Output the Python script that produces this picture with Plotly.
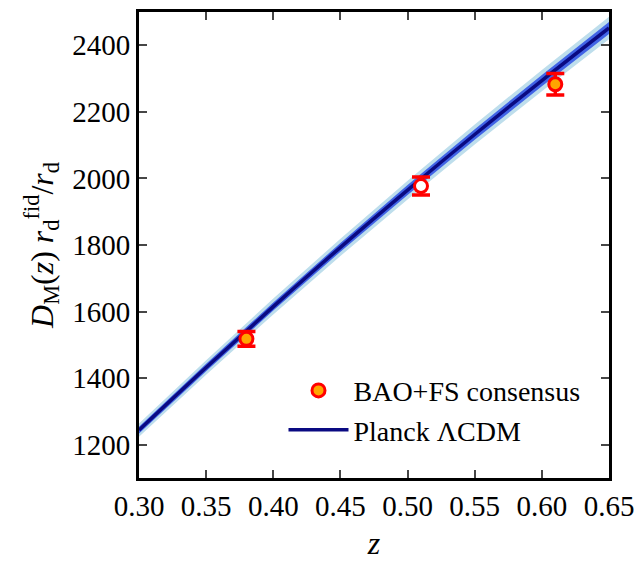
import plotly.graph_objects as go

# BAO+FS consensus measurements
z_data = [0.38, 0.51, 0.61]
dm_data = [1518, 1977, 2283]
dm_err = [22, 27, 32]
marker_fill = ["orange", "white", "orange"]

# Planck LCDM prediction with 1-sigma / 2-sigma bands
z_model = [0.30, 0.35, 0.40, 0.45, 0.50, 0.55, 0.60, 0.65]
dm_model = [1244, 1432, 1615, 1793, 1965, 2132, 2294, 2452]
sig1 = [10, 11, 12, 13, 15, 16, 17, 18]
sig2 = [20, 22, 24, 26, 28, 30, 32, 34]

x_ticks = [0.30, 0.35, 0.40, 0.45, 0.50, 0.55, 0.60, 0.65]
y_ticks = [1200, 1400, 1600, 1800, 2000, 2200, 2400]

FONT = "Liberation Serif"

fig = go.Figure()


def band(width, color):
    up = [d + w for d, w in zip(dm_model, width)]
    lo = [d - w for d, w in zip(dm_model, width)]
    return go.Scatter(
        x=z_model + z_model[::-1], y=up + lo[::-1],
        fill="toself", fillcolor=color, line=dict(width=0),
        mode="lines", hoverinfo="skip", showlegend=False,
    )


fig.add_trace(band(sig2, "rgb(190,222,236)"))
fig.add_trace(band(sig1, "rgb(65,100,230)"))
fig.add_trace(go.Scatter(
    x=z_model, y=dm_model, mode="lines", line_shape="spline",
    line=dict(color="rgb(10,10,130)", width=3.5),
    name="Planck \u039bCDM",
))
fig.add_trace(go.Scatter(
    x=z_data, y=dm_data, mode="markers",
    marker=dict(size=13, color=marker_fill, line=dict(color="red", width=3)),
    error_y=dict(type="data", array=dm_err, color="red", thickness=3.5, width=9),
    name="BAO+FS consensus",
))

axis_common = dict(
    showline=True, linecolor="black", linewidth=3, mirror="ticks",
    ticks="inside", ticklen=8, tickwidth=1.5, tickcolor="rgb(70,70,70)",
    showgrid=False, zeroline=False, automargin=False,
    tickfont=dict(family=FONT, size=29, color="black"),
)

fig.update_xaxes(
    range=[0.30, 0.65], tickvals=x_ticks,
    ticktext=[f"{v:.2f}" for v in x_ticks],
    title=dict(text="<i>z</i>", font=dict(family=FONT, size=32, color="black"), standoff=16),
    **axis_common,
)
fig.update_yaxes(
    range=[1100, 2500], tickvals=y_ticks,
    title=dict(
        text="<i>D</i><sub>M</sub>(<i>z</i>) <i>r</i><sub>d</sub><sup>fid</sup>/<i>r</i><sub>d</sub>",
        font=dict(family=FONT, size=32, color="black"), standoff=10,
    ),
    **axis_common,
)

fig.update_layout(
    width=637, height=561,
    margin=dict(l=139, r=28, t=12, b=83),
    plot_bgcolor="white", paper_bgcolor="white",
    legend=dict(
        x=0.95, y=0.05, xanchor="right", yanchor="bottom",
        bgcolor="rgba(0,0,0,0)", traceorder="reversed",
        font=dict(family=FONT, size=28, color="black"),
        itemwidth=60, tracegroupgap=0,
    ),
)

fig.write_html("out.html")
